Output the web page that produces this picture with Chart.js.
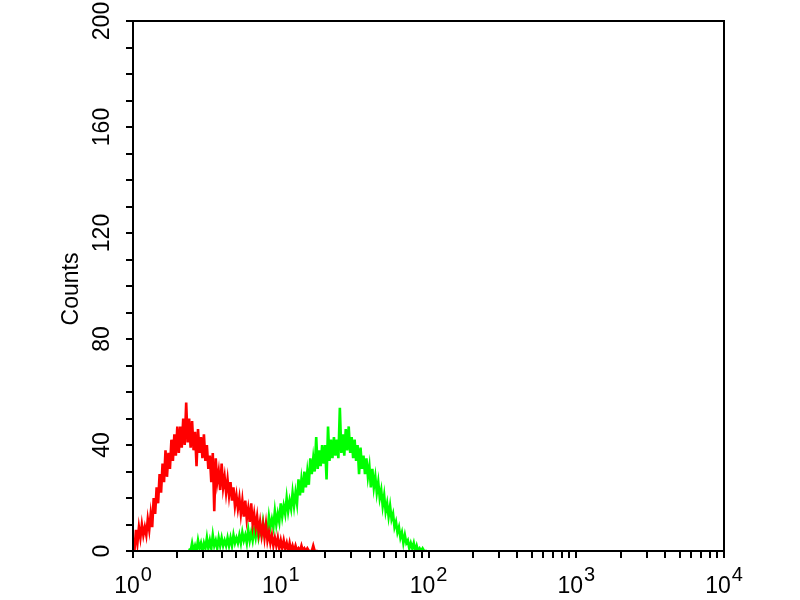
<!DOCTYPE html>
<html><head><meta charset="utf-8">
<script src="https://cdn.jsdelivr.net/npm/chart.js@4/dist/chart.umd.min.js"></script>
<style>html,body{margin:0;padding:0;background:#fff}#wrap{width:800px;height:600px}</style>
</head><body><div id="wrap"><canvas id="c" width="800" height="600"></canvas></div>
<script>
// Histogram channels: each channel is CHANNEL_STEP decades wide on the log intensity axis
const CHANNEL_STEP = 0.01;
const redStartChannel = 0;
const redCounts = [
  5,0, 8,3, 9,5, 10,6, 9,6, 12,8, 14,9, 20,14, 24,18, 29,22,
  33,26, 38,28, 37,31, 42,34, 44,36, 47,37, 47,39, 50,40, 56,41, 50,39,
  49,38, 45,32, 46,37, 43,35, 44,34, 40,31, 36,26, 37,15, 35,26, 30,23,
  33,24, 28,22, 27,21, 26,19, 24,17, 21,16, 20,14, 19,13, 19,12, 16,11,
  18,10, 14,9, 13,7, 11,6, 10,5, 10,4, 7,3, 6,2, 5,2, 5,1,
  4,1, 4,1, 3,0, 3,0, 2,0, 2,0, 1,0, 2,0, 1,0, 1,0,
  0,0, 2,0, 0,0];
const greenStartChannel = 38;
const greenCounts = [
  1,0, 3,0, 2,0, 4,1, 3,0, 3,1, 5,1, 4,1, 6,2, 4,1,
  5,2, 5,2, 4,2, 5,2, 5,2, 6,3, 5,3, 6,3, 7,4, 6,3,
  8,4, 7,4, 8,5, 9,5, 8,6, 11,7, 10,7, 13,9, 12,9, 15,10,
  14,11, 18,13, 17,14, 20,15, 19,16, 22,17, 22,18, 27,21, 27,22, 30,24,
  30,25, 35,29, 35,30, 43,31, 38,32, 40,33, 40,27, 47,34, 42,35, 43,36,
  42,35, 54,37, 44,36, 46,38, 47,37, 43,35, 42,34, 40,29, 39,31, 36,29,
  35,28, 32,24, 31,24, 28,22, 26,20, 23,17, 21,15, 18,13, 17,12, 14,9,
  11,7, 9,5, 7,3, 6,3, 4,1, 3,1, 3,0, 2,0, 1,0, 1,0,
  0,0];
const xDecades = [1,10,100,1000,10000];
const xMinorMultipliers = [2,3,4,5,6,7,8,9];
const xTickLabelBase = ['10','10','10','10','10'];
const xTickLabelExp = ['0','1','2','3','4'];
const yTickLabels = [0,40,80,120,160,200];
const yMinorStep = 10;
const yTitle = 'Counts';

const toPoints = (counts, start) => counts.map((c, i) => ({x: Math.pow(10, (start + i) * CHANNEL_STEP), y: c}));
const xTickValues = [];
xDecades.forEach((d, i) => {
  xTickValues.push(d);
  if (i < xDecades.length - 1) xMinorMultipliers.forEach(m => xTickValues.push(d * m));
});
const yTickValues = [];
for (let v = 0; v <= 200; v += yMinorStep) yTickValues.push(v);

const FONT = '"Liberation Sans", Arial, Helvetica, sans-serif';

const decor = {
  id: 'decor',
  afterDraw(chart) {
    const ctx = chart.ctx, a = chart.chartArea;
    const xs = chart.scales.x, ys = chart.scales.y;
    ctx.save();
    ctx.strokeStyle = '#000';
    ctx.lineWidth = 2;
    ctx.strokeRect(a.left, a.top, a.right - a.left, a.bottom - a.top);
    ctx.fillStyle = '#000';
    ctx.font = '23px ' + FONT;
    ctx.textAlign = 'center';
    ctx.textBaseline = 'middle';
    yTickLabels.forEach(v => {
      const y = ys.getPixelForValue(v);
      ctx.save();
      ctx.translate(103, y);
      ctx.rotate(-Math.PI / 2);
      ctx.fillText(String(v), 0, 0);
      ctx.restore();
    });
    ctx.save();
    ctx.translate(72, 289);
    ctx.rotate(-Math.PI / 2);
    ctx.font = '23px ' + FONT;
    ctx.fillText(yTitle, 0, 0);
    ctx.restore();
    ctx.textAlign = 'left';
    ctx.textBaseline = 'alphabetic';
    xDecades.forEach((d, i) => {
      const x = xs.getPixelForValue(d);
      ctx.font = '23px ' + FONT;
      const wb = ctx.measureText(xTickLabelBase[i]).width;
      ctx.font = '20px ' + FONT;
      const we = ctx.measureText(xTickLabelExp[i]).width;
      const start = x - (wb + we + 1) / 2;
      ctx.font = '23px ' + FONT;
      ctx.fillText(xTickLabelBase[i], start, 593);
      ctx.font = '20px ' + FONT;
      ctx.fillText(xTickLabelExp[i], start + wb + 1, 581);
    });
    ctx.restore();
  }
};

new Chart(document.getElementById('c'), {
  type: 'line',
  data: {
    datasets: [
      {label: 'Isotype', data: toPoints(redCounts, redStartChannel), borderColor: '#ff0000', borderWidth: 2.6, fill: false, pointRadius: 0, tension: 0},
      {label: 'Antibody', data: toPoints(greenCounts, greenStartChannel), borderColor: '#00ff00', borderWidth: 2.6, fill: false, pointRadius: 0, tension: 0}
    ]
  },
  options: {
    responsive: false,
    animation: false,
    layout: {padding: {left: 0, right: 76, top: 21, bottom: 0}},
    plugins: {legend: {display: false}, tooltip: {enabled: false}},
    scales: {
      x: {
        type: 'logarithmic', min: 1, max: 10000,
        afterBuildTicks: s => { s.ticks = xTickValues.map(v => ({value: v})); },
        afterFit: s => { s.height = 49; },
        ticks: {display: false, autoSkip: false},
        grid: {display: true, drawOnChartArea: false, drawTicks: true, tickLength: 7, color: '#000', lineWidth: 2},
        border: {display: false}
      },
      y: {
        type: 'linear', min: 0, max: 200,
        afterBuildTicks: s => { s.ticks = yTickValues.map(v => ({value: v})); },
        afterFit: s => { s.width = 133; },
        ticks: {display: false, autoSkip: false},
        grid: {display: true, drawOnChartArea: false, drawTicks: true, tickLength: 7, color: '#000', lineWidth: 2},
        border: {display: false}
      }
    }
  },
  plugins: [decor]
});
</script>
</body></html>
